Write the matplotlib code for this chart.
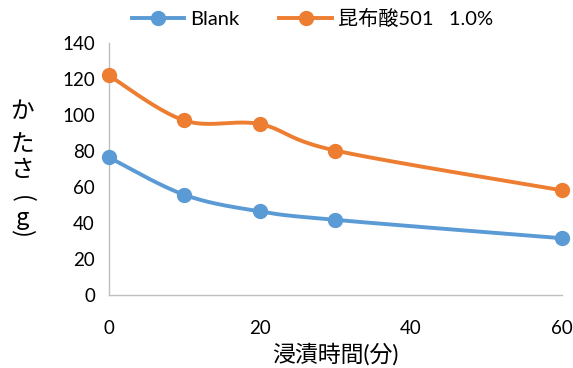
import numpy as np
import matplotlib
matplotlib.use("Agg")
import matplotlib.pyplot as plt
from matplotlib.lines import Line2D

plt.rcParams['font.family'] = ['Lato', 'Noto Sans CJK JP', 'DejaVu Sans']

# Data
minutes = [0, 10, 20, 30, 60]
blank = [76.5, 55.7, 46.5, 41.8, 31.6]
kombu = [122, 97, 95, 80.3, 58.2]
series_names = ["Blank", "昆布酸501   1.0%"]
x_ticks = [0, 20, 40, 60]
y_ticks = [0, 20, 40, 60, 80, 100, 120, 140]
y_label_chars = ["か", "た", "さ", "(", "g", ")"]

colors = ["#5B9BD5", "#ED7D31"]


def smooth(xs, ys, n=40):
    """Cardinal (Catmull-Rom) Bezier smoothing, like spreadsheet smoothed lines."""
    p = np.column_stack([xs, ys]).astype(float)
    out = []
    for i in range(len(p) - 1):
        p0 = p[i - 1] if i > 0 else p[i]
        p1 = p[i]
        p2 = p[i + 1]
        p3 = p[i + 2] if i + 2 < len(p) else p[i + 1]
        c1 = p1 + (p2 - p0) / 6.0
        c2 = p2 - (p3 - p1) / 6.0
        t = np.linspace(0, 1, n)[:, None]
        b = ((1 - t) ** 3) * p1 + 3 * ((1 - t) ** 2) * t * c1 + 3 * (1 - t) * t ** 2 * c2 + t ** 3 * p2
        out.append(b if i == 0 else b[1:])
    b = np.vstack(out)
    return b[:, 0], b[:, 1]


fig = plt.figure(figsize=(5.73, 3.68), dpi=100)
ax = fig.add_axes([0.190, 0.198, 0.791, 0.685])

for ys, c in zip([blank, kombu], colors):
    sx, sy = smooth(minutes, ys)
    ax.plot(sx, sy, color=c, lw=2.8, solid_capstyle='round', zorder=2, clip_on=False)
    ax.plot(minutes, ys, 'o', color=c, ms=10, zorder=3, clip_on=False)

ax.set_xlim(0, 60)
ax.set_ylim(0, 140)
ax.set_xticks(x_ticks)
ax.set_yticks(y_ticks)
ax.tick_params(length=0, labelsize=13.5, pad=10)
ax.tick_params(axis='x', pad=18)
for s in ['top', 'right']:
    ax.spines[s].set_visible(False)
for s in ['left', 'bottom']:
    ax.spines[s].set_color('#BFBFBF')
    ax.spines[s].set_linewidth(1.0)

ax.set_xlabel("浸漬時間(分)", fontsize=16.5, labelpad=4)

# vertical stacked y label, one glyph per row; brackets turned for vertical writing
label_rows = [112, 145, 171, 199, 218, 233]
for ch, yp in zip(y_label_chars, label_rows):
    rot = -90 if ch in "()" else 0
    fig.text(22 / 573, 1 - yp / 368, ch, fontsize=17, ha='center', va='center',
             rotation=rot, rotation_mode='anchor',
             family=['Noto Sans CJK JP', 'DejaVu Sans'])

handles = [Line2D([0], [0], color=c, lw=2.8, marker='o', ms=10) for c in colors]
fig.legend(handles, series_names, loc='upper center', bbox_to_anchor=(0.545, 1.025),
           ncol=2, frameon=False, fontsize=14.5, handlelength=2.6, columnspacing=2.0,
           handletextpad=0.3)

fig.savefig("out.png", dpi=100)
